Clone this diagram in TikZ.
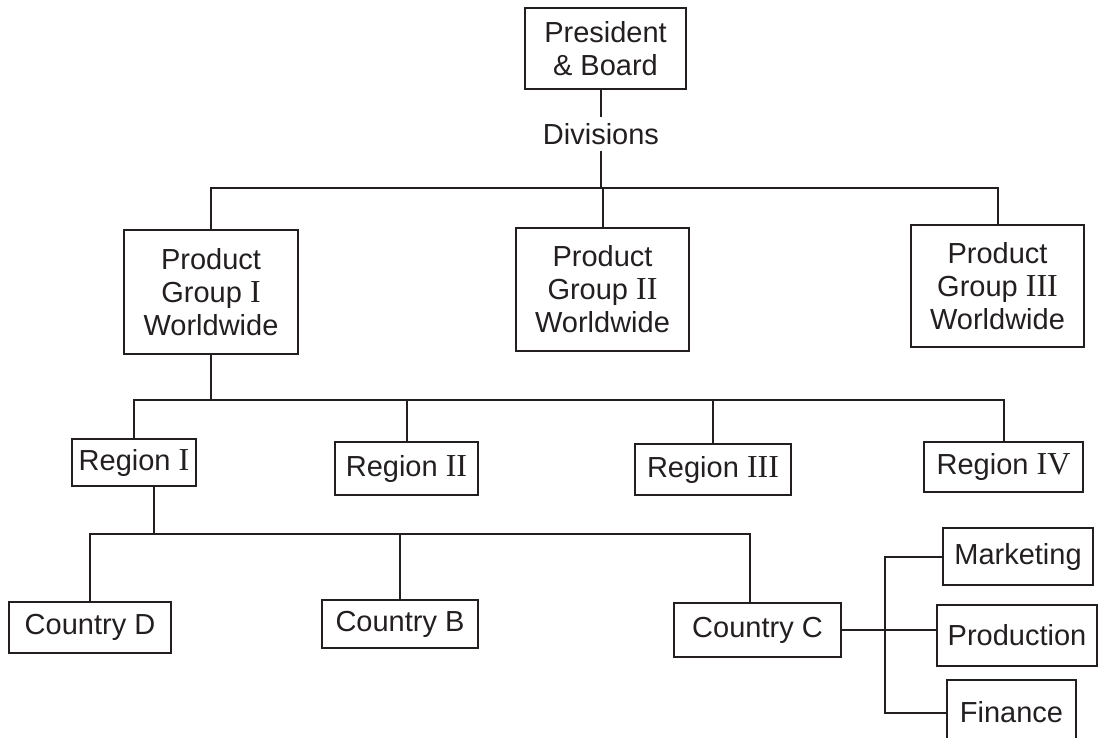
\documentclass[tikz,border=0pt]{standalone}
\usepackage{fontspec}
\setmainfont{Liberation Sans}
\newfontfamily\romanfont{Liberation Serif}
% Roman numerals are set in a serif face
\newcommand{\rn}[1]{{\romanfont\fontsize{32}{33}\selectfont #1}}
\definecolor{ink}{HTML}{231F20}
\begin{document}
\begin{tikzpicture}[x=1pt,y=-1pt,
  box/.style={draw=ink, line width=2pt, inner sep=0pt, align=center,
    text=ink, font=\fontsize{29}{33}\selectfont},
  sz/.style 2 args={minimum width=#1pt, minimum height=#2pt},
  lbl/.style={inner xsep=0pt, inner ysep=6pt, text=ink, font=\fontsize{29}{33}\selectfont},
  wire/.style={draw=ink, line width=2pt}]
\useasboundingbox (0,0) rectangle (1100,737);
\clip (0,0) rectangle (1100,737);

% top of the hierarchy
\node[box, sz={161}{81}] (pres) at (605.5,48.5) {President\\\& Board};
\node[lbl] (div) at (601,134) {Divisions};

% product groups
\node[box, sz={174}{124}] (pg1) at (211,292) {Product\\Group \rn{I}\\Worldwide};
\node[box, sz={173}{123}] (pg2) at (602.5,289.5) {Product\\Group \rn{II}\\Worldwide};
\node[box, sz={173}{122}] (pg3) at (997.5,286) {Product\\Group \rn{III}\\Worldwide};

% regions
\node[box, sz={124}{47}] (r1) at (134,462.5) {Region \rn{I}};
\node[box, sz={143}{53}] (r2) at (406.5,468.5) {Region \rn{II}};
\node[box, sz={156}{51}] (r3) at (713,469.5) {Region \rn{III}};
\node[box, sz={159}{50}] (r4) at (1003.5,467) {Region \rn{IV}};

% countries
\node[box, sz={162}{51}] (cD) at (90,627.5) {Country D};
\node[box, sz={156}{48}] (cB) at (400,624) {Country B};
\node[box, sz={167}{54}] (cC) at (757.5,630) {Country C};

% functions
\node[box, sz={150}{57}] (mkt) at (1018,556.5) {Marketing};
\node[box, sz={160}{61}] (prod) at (1017,635.5) {Production};
\node[box, sz={129}{65}] (fin) at (1011.5,712.5) {Finance};

% bus lines
\coordinate (busA) at (601,188);
\coordinate (busB) at (211,400);
\coordinate (busC) at (154,534);
\coordinate (dropC) at (750,534);
\coordinate (spine) at (885,632);

% connectors
\draw[wire] (pres.south -| div.north) -- (div.north);
\draw[wire] (div.south) -- (busA);
\draw[wire] (pg1.north) |- (busA) -| (pg3.north);
\draw[wire] (pg2.north |- busA) -- (pg2.north);

\draw[wire] (pg1.south) -- (busB);
\draw[wire] (r1.north) |- (busB) -| (r4.north);
\draw[wire] (r2.north |- busB) -- (r2.north);
\draw[wire] (r3.north |- busB) -- (r3.north);

\draw[wire] (r1.south -| busC) -- (busC);
\draw[wire] (cD.north) |- (dropC) -- (dropC |- cC.north);
\draw[wire] (cB.north |- busC) -- (cB.north);

\draw[wire] (cC.east) -- (cC.east -| prod.west);
\draw[wire] (mkt.west) -- (mkt.west -| spine) -- (fin.west -| spine) -- (fin.west);
\end{tikzpicture}
\end{document}
